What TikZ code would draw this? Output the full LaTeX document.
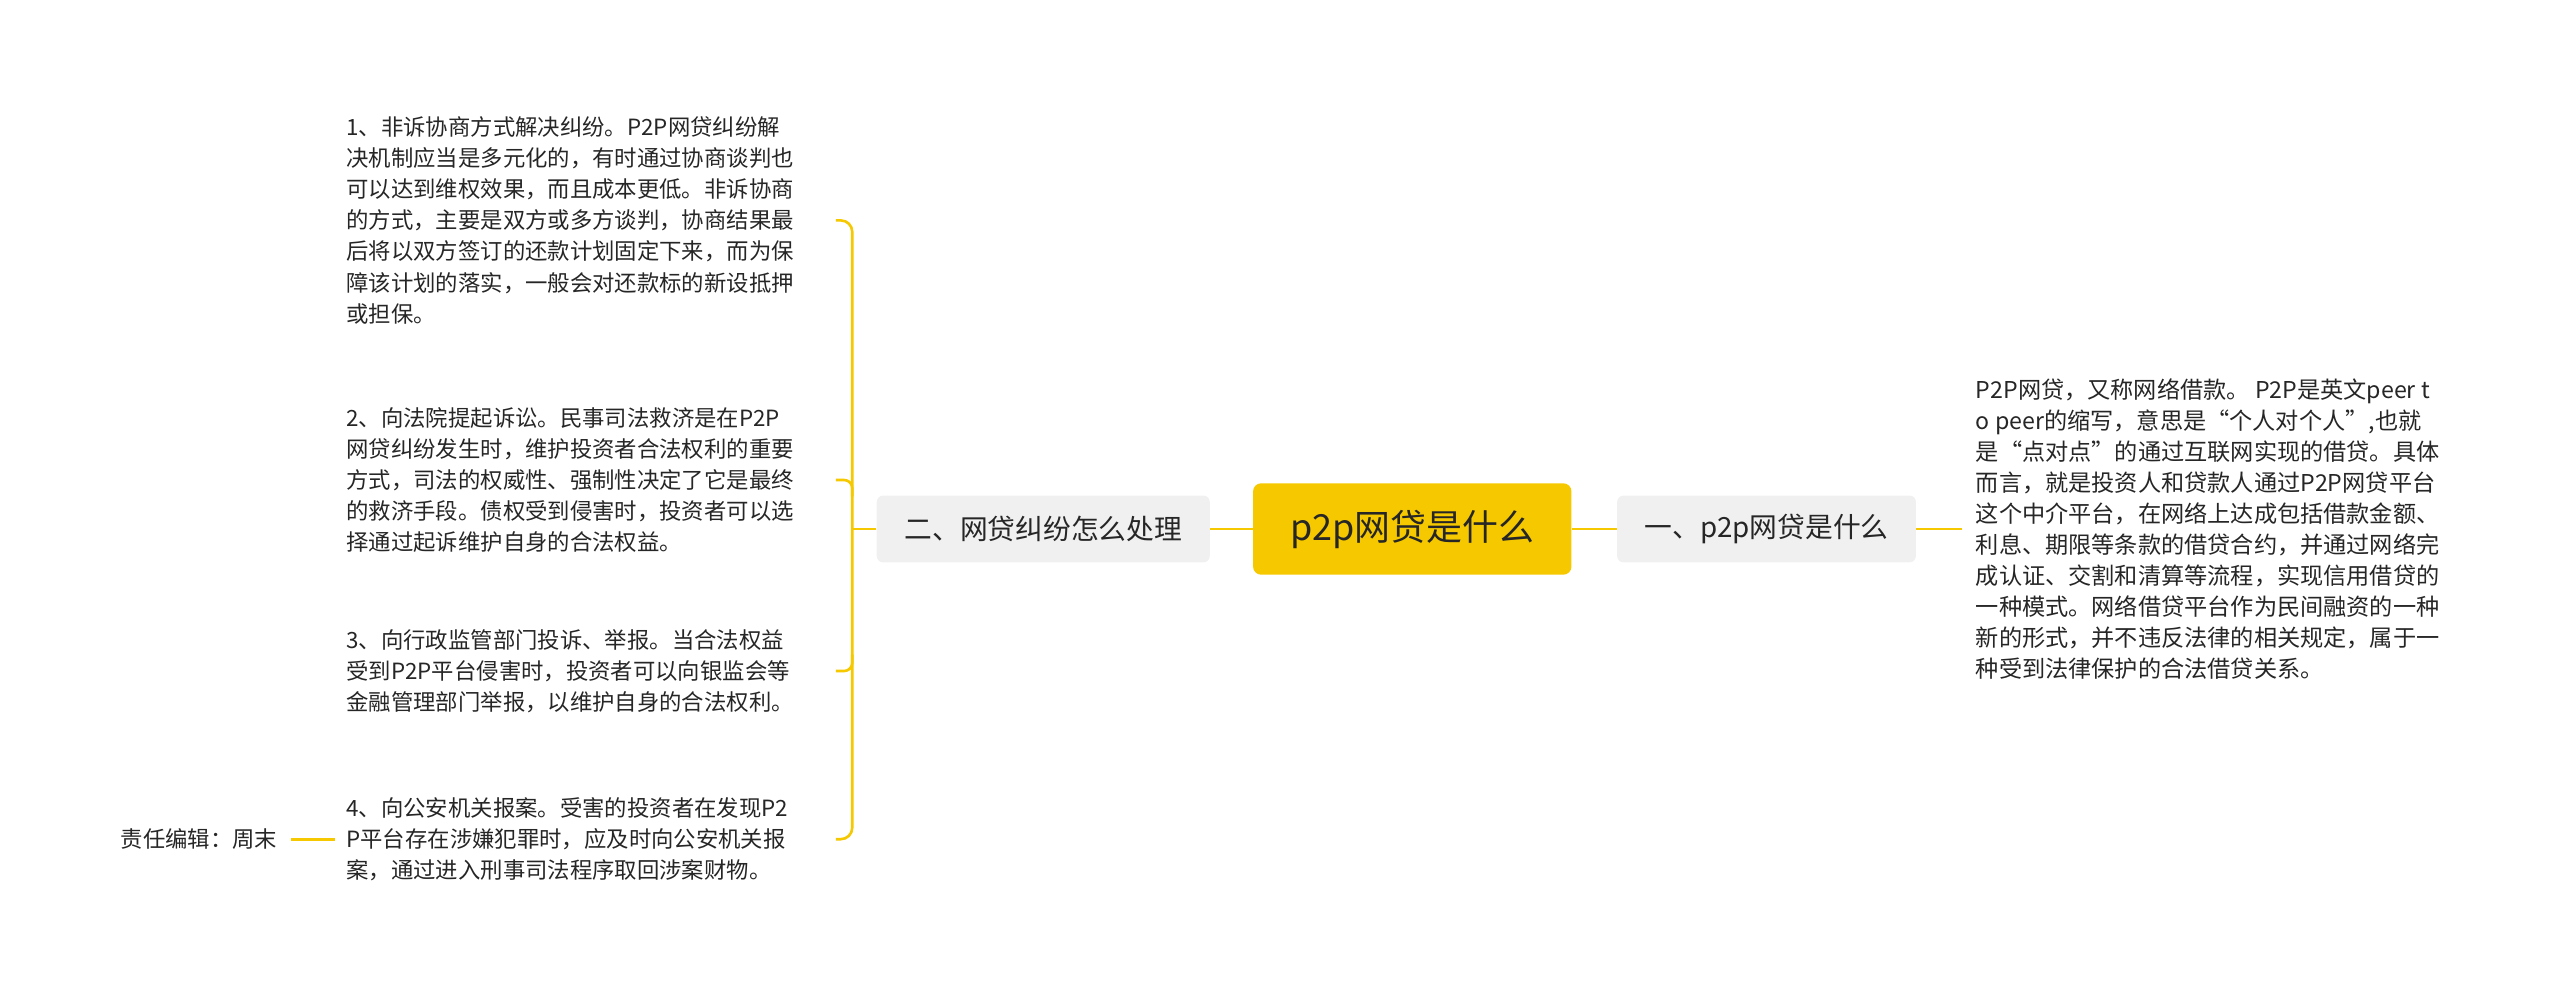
\documentclass[tikz,border=0pt]{standalone}
\usepackage{fontspec}
\setmainfont{Noto Sans CJK SC}
\definecolor{gold}{HTML}{F5C800}
\begin{document}
\begin{tikzpicture}[x=1pt,y=-1pt,
  conn/.style={draw=gold,line width=1.6pt},
  txt/.style={align=left,anchor=west,inner sep=0pt,text=black!85,font=\fontsize{13.7}{19}\selectfont},
  topic/.style={fill=gray!12,rounded corners=4pt,minimum height=41pt,inner xsep=9pt,font=\fontsize{17}{20}\selectfont,text=black!85}]
\useasboundingbox (0,0) rectangle (1568,611);
\node[fill=gold,rounded corners=5pt,minimum width=195pt,minimum height=56pt,font=\fontsize{22}{26}\selectfont,text=black!85] (c) at (865,324) {p2p网贷是什么};
\node[topic,minimum width=183pt] (r) at (1082,324) {一、p2p网贷是什么};
\node[topic,minimum width=204pt] (l) at (639,324) {二、网贷纠纷怎么处理};
\node[txt,font=\fontsize{14.2}{19}\selectfont] (rt) at (1210,324) {P2P网贷，又称网络借款。 P2P是英文peer t\\o peer的缩写，意思是“个人对个人”,也就\\是“点对点”的通过互联网实现的借贷。具体\\而言，就是投资人和贷款人通过P2P网贷平台\\这个中介平台，在网络上达成包括借款金额、\\利息、期限等条款的借贷合约，并通过网络完\\成认证、交割和清算等流程，实现信用借贷的\\一种模式。网络借贷平台作为民间融资的一种\\新的形式，并不违反法律的相关规定，属于一\\种受到法律保护的合法借贷关系。};
\node[txt] (b1) at (212,135) {1、非诉协商方式解决纠纷。P2P网贷纠纷解\\决机制应当是多元化的，有时通过协商谈判也\\可以达到维权效果，而且成本更低。非诉协商\\的方式，主要是双方或多方谈判，协商结果最\\后将以双方签订的还款计划固定下来，而为保\\障该计划的落实，一般会对还款标的新设抵押\\或担保。};
\node[txt] (b2) at (212,294) {2、向法院提起诉讼。民事司法救济是在P2P\\网贷纠纷发生时，维护投资者合法权利的重要\\方式，司法的权威性、强制性决定了它是最终\\的救济手段。债权受到侵害时，投资者可以选\\择通过起诉维护自身的合法权益。};
\node[txt] (b3) at (212,411) {3、向行政监管部门投诉、举报。当合法权益\\受到P2P平台侵害时，投资者可以向银监会等\\金融管理部门举报，以维护自身的合法权利。};
\node[txt] (b4) at (212,514) {4、向公安机关报案。受害的投资者在发现P2\\P平台存在涉嫌犯罪时，应及时向公安机关报\\案，通过进入刑事司法程序取回涉案财物。};
\node[txt,anchor=east] (ed) at (170,514) {责任编辑：周末};
\coordinate (j) at (522,324);
\draw[conn] (c.east) -- (r.west);
\draw[conn] (c.west) -- (l.east);
\draw[conn] (r.east) -- ([xshift=-8pt]rt.west);
\draw[conn] (l.west) -- (j);
\draw[conn,rounded corners=7pt] (512,135) -- (522,135) -- (522,514) -- (512,514);
\draw[conn,rounded corners=5pt] (512,294) -- (522,294) -- (522,304);
\draw[conn,rounded corners=5pt] (512,411) -- (522,411) -- (522,401);
\draw[conn] (178,514) -- (205,514);
\end{tikzpicture}
\end{document}
